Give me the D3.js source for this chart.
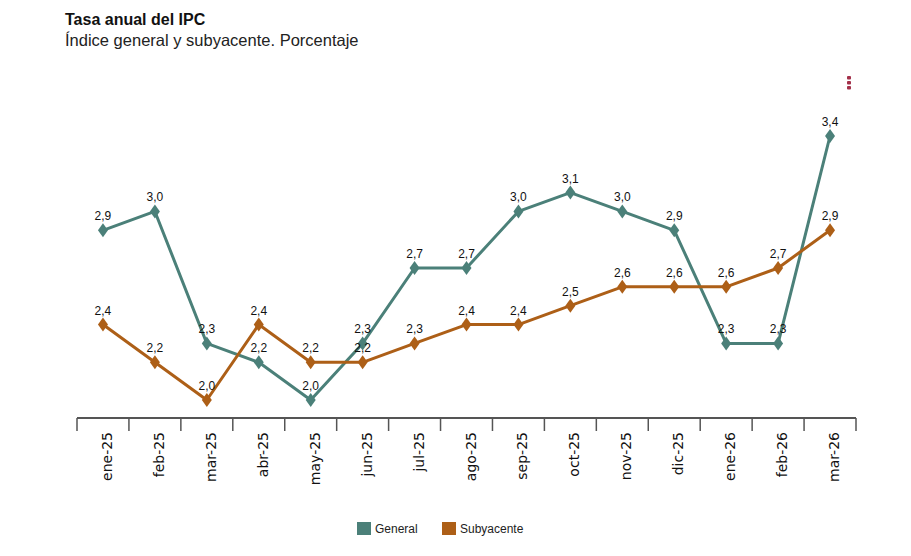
<!DOCTYPE html>
<html>
<head>
<meta charset="utf-8">
<script src="https://cdn.jsdelivr.net/npm/d3@7"></script>
<style>
  body { margin: 0; background: #fff; }
  svg { display: block; }
</style>
</head>
<body>
<svg id="chart" width="911" height="556"></svg>
<script>
const categories = ["ene-25","feb-25","mar-25","abr-25","may-25","jun-25","jul-25","ago-25","sep-25","oct-25","nov-25","dic-25","ene-26","feb-26","mar-26"];
const general = [2.9, 3.0, 2.3, 2.2, 2.0, 2.3, 2.7, 2.7, 3.0, 3.1, 3.0, 2.9, 2.3, 2.3, 3.4];
const subyacente = [2.4, 2.2, 2.0, 2.4, 2.2, 2.2, 2.3, 2.4, 2.4, 2.5, 2.6, 2.6, 2.6, 2.7, 2.9];
const seriesNames = ["General", "Subyacente"];
const colors = ["#4b8079", "#ad5f17"];

const svg = d3.select("#chart");
const fmt = v => d3.format(".1f")(v).replace(".", ",");

// Title
svg.append("text").attr("x", 65).attr("y", 25)
  .attr("font-family", "Liberation Sans, Arial, sans-serif")
  .attr("font-size", 16).attr("font-weight", "bold").attr("fill", "#111")
  .text("Tasa anual del IPC");
svg.append("text").attr("x", 65).attr("y", 46)
  .attr("font-family", "Liberation Sans, Arial, sans-serif")
  .attr("font-size", 16.5).attr("fill", "#222")
  .text("Índice general y subyacente. Porcentaje");

// menu icon
[0,1,2].forEach(i => {
  svg.append("rect").attr("x", 847).attr("y", 76 + i*5).attr("width", 4).attr("height", 3.5)
    .attr("rx", 1).attr("fill", "#a3304a");
});

const x = d3.scaleBand().domain(categories).range([77, 856]);
const y = d3.scaleLinear().domain([2.0, 3.4]).range([400, 136]);

// Axis
const axisG = svg.append("g").attr("transform", "translate(0,418)");
axisG.append("line").attr("x1", 77).attr("x2", 856).attr("y1", 0).attr("y2", 0)
  .attr("stroke", "#555").attr("stroke-width", 2);
const tickPos = categories.map(c => x(c)).concat([x(categories[categories.length-1]) + x.bandwidth()]);
axisG.selectAll("line.tick").data(tickPos).enter().append("line")
  .attr("class", "tick")
  .attr("x1", d => d).attr("x2", d => d).attr("y1", 0).attr("y2", 13)
  .attr("stroke", "#555").attr("stroke-width", 1.5);
axisG.selectAll("text.lbl").data(categories).enter().append("text")
  .attr("class", "lbl")
  .attr("transform", d => `translate(${x(d) + x.bandwidth()/2 + 9},14) rotate(-90)`)
  .attr("text-anchor", "end")
  .attr("font-family", "DejaVu Sans, Verdana, sans-serif")
  .attr("font-size", 14).attr("fill", "#111")
  .text(d => d);

const line = d3.line().x((d, i) => x(categories[i]) + x.bandwidth()/2).y(d => y(d));
const diamond = "M0,-7L5,0L0,7L-5,0Z";

[general, subyacente].forEach((vals, s) => {
  const g = svg.append("g");
  g.append("path").datum(vals).attr("d", line).attr("fill", "none")
    .attr("stroke", colors[s]).attr("stroke-width", 3).attr("stroke-linejoin", "round");
  g.selectAll("path.m").data(vals).enter().append("path").attr("class", "m")
    .attr("d", diamond)
    .attr("transform", (d, i) => `translate(${x(categories[i]) + x.bandwidth()/2},${y(d)})`)
    .attr("fill", colors[s]);
  g.selectAll("text").data(vals).enter().append("text")
    .attr("x", (d, i) => x(categories[i]) + x.bandwidth()/2)
    .attr("y", d => y(d) - 10)
    .attr("text-anchor", "middle")
    .attr("font-family", "Liberation Sans, Arial, sans-serif")
    .attr("font-size", 12).attr("fill", "#111")
    .text(d => fmt(d));
});

// Legend
const legendX = [357, 442];
seriesNames.forEach((n, i) => {
  svg.append("rect").attr("x", legendX[i]).attr("y", 522).attr("width", 14).attr("height", 13)
    .attr("fill", colors[i]);
  svg.append("text").attr("x", legendX[i] + 18).attr("y", 533)
    .attr("font-family", "Liberation Sans, Arial, sans-serif")
    .attr("font-size", 12).attr("fill", "#222").text(n);
});
</script>
</body>
</html>
